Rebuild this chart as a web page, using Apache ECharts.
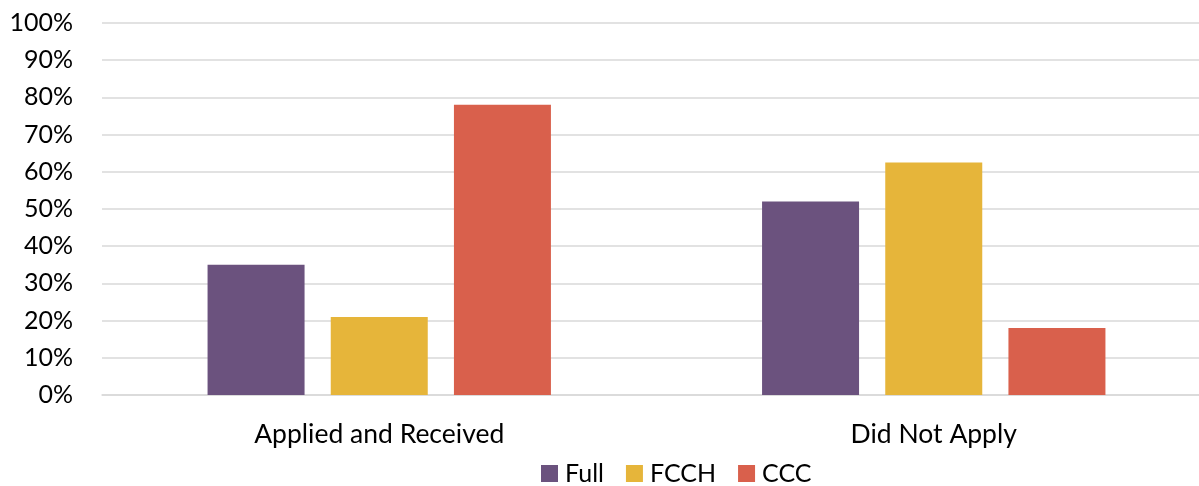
<!DOCTYPE html>
<html><head><meta charset="utf-8">
<script src="https://cdn.jsdelivr.net/npm/echarts@6/dist/echarts.min.js"></script>
<style>html,body{margin:0;padding:0;background:#fff;overflow:hidden;width:1199px;height:486px}#c{width:1211px;height:486px}</style>
</head><body><div id="c"></div>
<script>
const categories = ['Applied and Received', 'Did Not Apply'];
const seriesNames = ['Full', 'FCCH', 'CCC'];
const fullValues = [35, 52];
const fcchValues = [21, 62.5];
const cccValues = [78, 18];
const colors = ['#6B527E', '#E6B53A', '#D9604C'];
const font = 'Lato, "Open Sans", sans-serif';

const chart = echarts.init(document.getElementById('c'));
const data = [fullValues, fcchValues, cccValues];
chart.setOption({
  animation: false,
  grid: { left: 102, top: 23, right: 0, bottom: 91, containLabel: false },
  legend: {
    left: 541, top: 461, padding: 0, itemWidth: 17, itemHeight: 17, itemGap: 22,
    icon: 'rect',
    textStyle: { fontSize: 25, color: '#000', fontFamily: font, padding: [0, 0, 0, 2] }
  },
  xAxis: {
    type: 'category', data: categories,
    axisLine: { lineStyle: { color: '#D9D9D9', width: 1.5 } },
    axisTick: { show: false },
    axisLabel: { fontSize: 26.5, color: '#000', fontFamily: font, margin: 26 }
  },
  yAxis: {
    type: 'value', min: 0, max: 100, interval: 10,
    axisLabel: { formatter: '{value}%', fontSize: 25, color: '#000', fontFamily: font, margin: 29 },
    splitLine: { lineStyle: { color: '#D9D9D9', width: 1.5 } },
    axisLine: { show: false }, axisTick: { show: false }
  },
  series: seriesNames.map((n, i) => ({
    name: n, type: 'bar', data: data[i], barWidth: 97, barGap: '27%',
    itemStyle: { color: colors[i] }
  }))
});
</script></body></html>
